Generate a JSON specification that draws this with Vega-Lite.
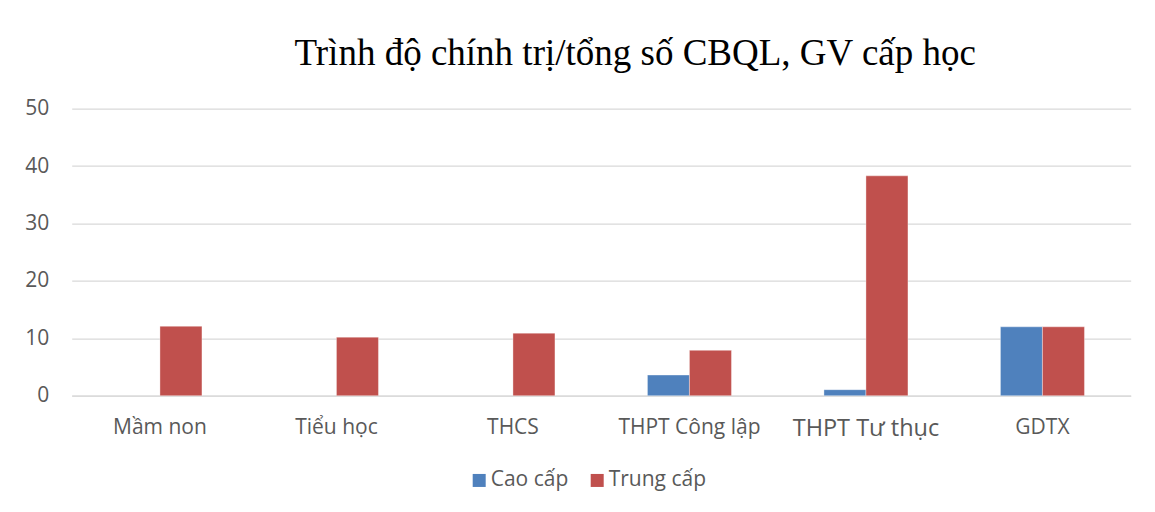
{
  "$schema": "https://vega.github.io/schema/vega-lite/v6.json",
  "autosize": {"type": "none"},
  "padding": {"left": 71.7, "top": 108.7, "right": 24.3, "bottom": 116.3},
  "width": 1059,
  "height": 287,
  "background": "white",
  "title": {
    "text": "Trình độ chính trị/tổng số CBQL, GV cấp học",
    "font": "Liberation Serif",
    "fontSize": 37,
    "fontWeight": "normal",
    "color": "#000000",
    "anchor": "middle",
    "baseline": "alphabetic",
    "offset": -4,
    "dx": 34
  },
  "data": {
    "values": [
      {"cap": "Mầm non", "loai": "Cao cấp", "val": 0},
      {"cap": "Mầm non", "loai": "Trung cấp", "val": 12.1},
      {"cap": "Tiểu học", "loai": "Cao cấp", "val": 0},
      {"cap": "Tiểu học", "loai": "Trung cấp", "val": 10.2},
      {"cap": "THCS", "loai": "Cao cấp", "val": 0},
      {"cap": "THCS", "loai": "Trung cấp", "val": 10.9},
      {"cap": "THPT Công lập", "loai": "Cao cấp", "val": 3.6},
      {"cap": "THPT Công lập", "loai": "Trung cấp", "val": 7.9},
      {"cap": "THPT Tư thục", "loai": "Cao cấp", "val": 1.05},
      {"cap": "THPT Tư thục", "loai": "Trung cấp", "val": 38.3},
      {"cap": "GDTX", "loai": "Cao cấp", "val": 12.0},
      {"cap": "GDTX", "loai": "Trung cấp", "val": 12.0}
    ]
  },
  "mark": {"type": "bar", "stroke": {"expr": "datum.val > 0 ? '#ffffff' : null"}, "strokeWidth": 0.6, "strokeOpacity": 0.6},
  "encoding": {
    "x": {
      "field": "cap",
      "type": "nominal",
      "sort": null,
      "scale": {"paddingInner": 0.524, "paddingOuter": 0.262},
      "axis": {
        "title": null,
        "labelAngle": 0,
        "ticks": false,
        "labelPadding": 21,
        "labelFont": "Open Sans",
        "labelFontSize": {"expr": "datum.value == 'THPT Tư thục' ? 23.5 : 21"},
        "labelColor": "#595959",
        "domainColor": "#D9D9D9",
        "domainWidth": 1.3,
        "grid": false
      }
    },
    "xOffset": {
      "field": "loai",
      "type": "nominal",
      "sort": ["Cao cấp", "Trung cấp"],
      "scale": {"paddingInner": 0, "paddingOuter": 0}
    },
    "y": {
      "field": "val",
      "type": "quantitative",
      "scale": {"domain": [0, 50], "nice": false},
      "axis": {
        "title": null,
        "values": [0, 10, 20, 30, 40, 50],
        "ticks": false,
        "domain": false,
        "labelPadding": 23,
        "labelFont": "Open Sans",
        "labelFontSize": 21,
        "labelColor": "#595959",
        "gridColor": "#D9D9D9",
        "gridWidth": 1.3
      }
    },
    "color": {
      "field": "loai",
      "type": "nominal",
      "sort": ["Cao cấp", "Trung cấp"],
      "scale": {"domain": ["Cao cấp", "Trung cấp"], "range": ["#4F81BD", "#C0504D"]},
      "legend": {
        "title": null,
        "orient": "none",
        "direction": "horizontal",
        "legendX": 397,
        "legendY": 361,
        "symbolType": "square",
        "symbolSize": 169,
        "symbolStrokeWidth": 0,
        "labelFont": "Open Sans",
        "labelFontSize": 21,
        "labelColor": "#595959",
        "labelOffset": 1,
        "columnPadding": 18
      }
    }
  },
  "config": {"view": {"stroke": null}}
}
